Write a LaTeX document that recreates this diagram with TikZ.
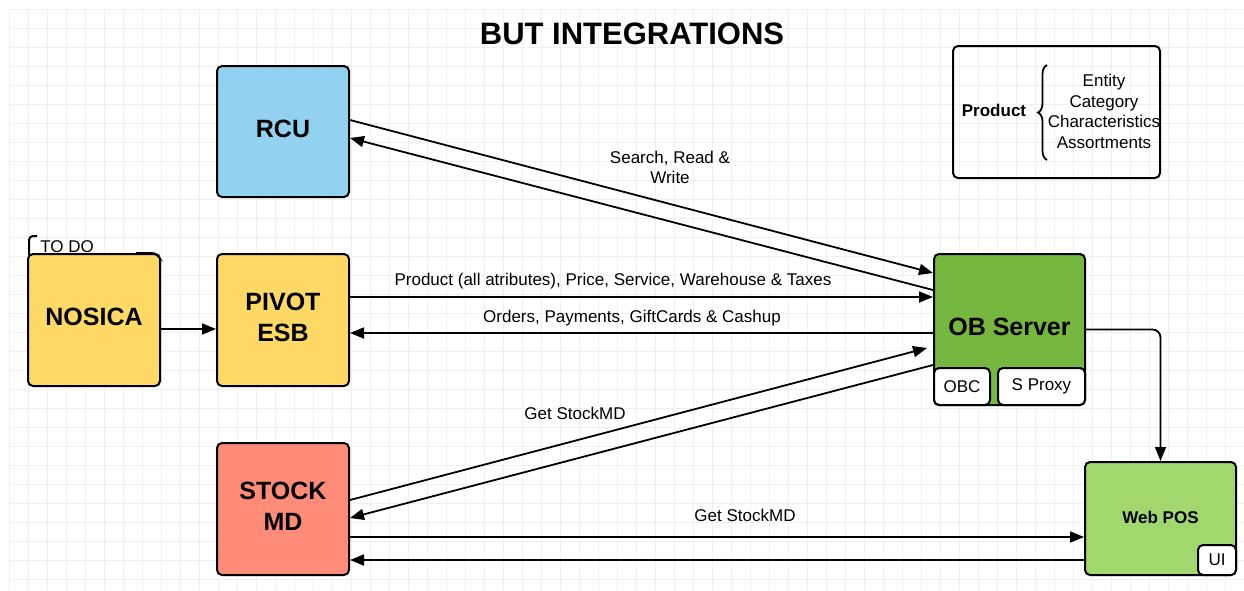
\documentclass[tikz,border=0pt]{standalone}
\usepackage{fontspec}
\setmainfont{Liberation Sans}
\usetikzlibrary{arrows.meta,calc,decorations.pathreplacing}
\definecolor{rcublue}{RGB}{146,210,240}
\definecolor{esbyellow}{RGB}{255,217,102}
\definecolor{stockred}{RGB}{255,140,120}
\definecolor{obgreen}{RGB}{118,184,63}
\definecolor{posgreen}{RGB}{160,216,110}
\definecolor{gridgray}{RGB}{240,240,240}

\begin{document}
\begin{tikzpicture}
[x=0.5pt,y=-0.5pt,>={Triangle[length=7pt,width=5.5pt]},
box/.style = {draw, line width=1pt, rounded corners=2.5pt, inner sep=0pt, align=center, text depth=3pt, minimum width=66pt, minimum height=66pt, font=\fontsize{12.5}{15.5}\selectfont\bfseries},
sub/.style = {draw, line width=1pt, rounded corners=2.5pt, fill=white, inner sep=0pt, font=\fontsize{8.5}{10}\selectfont},
lbl/.style = {align=center, inner sep=0pt, font=\fontsize{8.5}{10}\selectfont},
link/.style = {->, line width=0.9pt},]
\useasboundingbox (0,0) rectangle (1244,590);
\begin{scope}[shift={(9.3,9.3)}]
\draw[gridgray, line width=0.4pt] (0,581) grid[step=9.5pt] (1235,0);
\end{scope}

\node (T) at (632,34) [font=\fontsize{15.5}{18}\selectfont\bfseries] {BUT INTEGRATIONS};

\node (RCU) at (283,131.5) [box, fill=rcublue, minimum height=65.5pt] {RCU};
\node (NOSICA) at (94,320) [box, fill=esbyellow] {NOSICA};
\node (PIVOT) at (283,320) [box, fill=esbyellow] {PIVOT\\ESB};
\node (STOCK) at (283,509) [box, fill=stockred] {STOCK\\MD};
\node (OB) at (1009.5,329.5) [box, fill=obgreen, minimum width=75.5pt, minimum height=75.5pt] {OB Server};
\node (OBC) at (962,386.5) [sub, minimum width=28pt, minimum height=18.5pt] {OBC};
\node (SP) at (1041.5,386.5) [sub, minimum width=43.5pt, minimum height=18.5pt] {S Proxy};
\node (POS) at (1160.5,518.5) [box, fill=posgreen, text depth=1pt, minimum width=75.5pt, minimum height=56.5pt, font=\fontsize{8.5}{10}\selectfont\bfseries] {Web POS};
\node (UI) at (1217,560) [sub, minimum width=19pt, minimum height=15pt] {UI};

% legend
\node (L) at (1056.5,112) [draw, line width=1pt, rounded corners=2.5pt, minimum width=103.5pt, minimum height=66pt] {};
\node (PR) at (994,110) [lbl, font=\fontsize{8.5}{10}\selectfont\bfseries] {Product};
\node (LIST) at (1104,111.5) [lbl, font=\fontsize{8.5}{10.2}\selectfont] {Entity\\Category\\Characteristics\\Assortments};
\draw [decorate, decoration={brace, amplitude=4.5pt}, line width=0.9pt] (1047,160) -- (1047,65);

% to do note
\node (TD) at (40,247) [lbl, anchor=west] {TO DO};
\draw [line width=1pt, rounded corners=2pt] (37,236) -- (29,236) -- (29,255);
\draw [line width=1pt, rounded corners=2pt] (136,253) -- (156,253) -- (158,256);

\draw[link] ($(RCU.east)+(0,-11.5)$) -- ($(OB.west)+(0,-56.5)$);
\draw[link] ($(OB.west)+(0,-39.5)$) -- ($(RCU.east)+(0,6.5)$);
\draw[link] ($(PIVOT.east)+(0,-23)$) -- ($(OB.west)+(0,-32.5)$);
\draw[link] ($(OB.west)+(0,3.5)$) -- ($(PIVOT.east)+(0,13)$);
\draw[link] ($(NOSICA.east)+(0,9)$) -- ($(PIVOT.west)+(0,9)$);
\draw[link] ($(STOCK.east)+(0,-9)$) -- ($(OB.west)+(-6,18.5)$);
\draw[link] ($(OB.west)+(0,35.5)$) -- ($(STOCK.east)+(0,9)$);
\draw[link] ($(STOCK.east)+(0,28)$) -- ($(POS.west)+(0,18.5)$);
\draw[link] ($(POS.west)+(0,41.5)$) -- ($(STOCK.east)+(0,51)$);
\draw[link, rounded corners=4pt] (OB.east) -| (POS.north);

\node (SRW) at (670,167) [lbl] {Search, Read \&\\Write};
\node (PRD) at (613,281) [lbl] {Product (all atributes), Price, Service, Warehouse \& Taxes};
\node (ORD) at (632,318) [lbl] {Orders, Payments, GiftCards \& Cashup};
\node (GS1) at (575,413) [lbl] {Get StockMD};
\node (GS2) at (745,515) [lbl] {Get StockMD};

\end{tikzpicture}
\end{document}
